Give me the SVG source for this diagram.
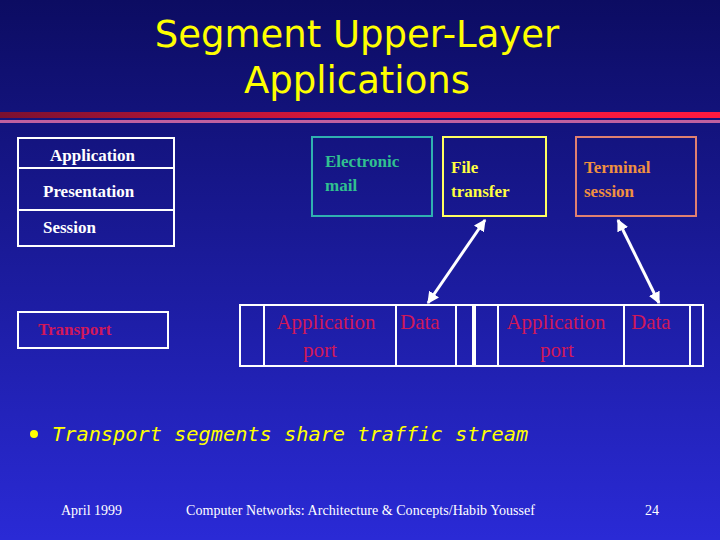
<svg xmlns="http://www.w3.org/2000/svg" width="720" height="540" viewBox="0 0 720 540">
<defs>
<linearGradient id="bg" x1="0" y1="0" x2="0" y2="1"><stop offset="0" stop-color="#0c0c62"/><stop offset="1" stop-color="#2a2ad6"/></linearGradient>
<linearGradient id="stripe" x1="0" y1="0" x2="1" y2="0"><stop offset="0" stop-color="#7a1030"/><stop offset="0.5" stop-color="#e0183c"/><stop offset="1" stop-color="#ff1a40"/></linearGradient>
<marker id="ah" viewBox="0 0 10 10" refX="9" refY="5" markerWidth="4" markerHeight="4" orient="auto-start-reverse"><path d="M0,0 L10,5 L0,10 z" fill="#fff"/></marker>
<style>
.box{fill:none;stroke:#fff;stroke-width:2}
.w{font-family:"Liberation Serif",serif;font-weight:bold;font-size:17px;fill:#fff}
.r{font-family:"Liberation Serif",serif;font-size:21px;fill:#d0185a}
.f{font-family:"Liberation Serif",serif;font-size:14px;fill:#fff}
</style>
</defs>
<rect width="720" height="540" fill="url(#bg)"/>
<rect x="0" y="112" width="720" height="6" fill="url(#stripe)"/>
<rect x="0" y="120" width="720" height="3" fill="#c060a0"/>
<g id="title" font-family="DejaVu Sans,sans-serif" font-size="37" fill="#ffff00" text-anchor="middle">
<text x="357" y="47">Segment Upper-Layer</text><text x="357" y="93">Applications</text></g>
<g id="stack">
<rect class="box" x="18" y="138" width="156" height="108"/>
<line class="box" x1="18" y1="168" x2="174" y2="168"/><line class="box" x1="18" y1="210" x2="174" y2="210"/>
<text class="w" x="50" y="161">Application</text><text class="w" x="43" y="197">Presentation</text><text class="w" x="43" y="233">Session</text>
</g>
<g id="transport"><rect class="box" x="18" y="312" width="150" height="36"/><text class="w" x="38" y="335" style="fill:#d0185a">Transport</text></g>
<g id="email"><rect x="312" y="137" width="120" height="79" fill="none" stroke="#30b0b0" stroke-width="2"/><text class="w" x="325" y="167" style="fill:#30c090">Electronic</text><text class="w" x="325" y="191" style="fill:#30c090">mail</text></g>
<g id="file"><rect x="443" y="137" width="103" height="79" fill="none" stroke="#ffff60" stroke-width="2"/><text class="w" x="451" y="173" style="fill:#ffff40">File</text><text class="w" x="451" y="197" style="fill:#ffff40">transfer</text></g>
<g id="terminal"><rect x="576" y="137" width="120" height="79" fill="none" stroke="#e08070" stroke-width="2"/><text class="w" x="584" y="173" style="fill:#f09040">Terminal</text><text class="w" x="584" y="197" style="fill:#f09040">session</text></g>
<g id="ports">
<rect class="box" x="240" y="305" width="463" height="61"/>
<line class="box" x1="264" y1="305" x2="264" y2="366"/><line class="box" x1="396" y1="305" x2="396" y2="366"/><line class="box" x1="456" y1="305" x2="456" y2="366"/>
<line x1="474" y1="305" x2="474" y2="366" stroke="#fff" stroke-width="4"/>
<line class="box" x1="498" y1="305" x2="498" y2="366"/><line class="box" x1="624" y1="305" x2="624" y2="366"/><line class="box" x1="690" y1="305" x2="690" y2="366"/>
<text class="r" x="326" y="329" text-anchor="middle">Application</text><text class="r" x="320" y="357" text-anchor="middle">port</text><text class="r" x="400" y="329">Data</text>
<text class="r" x="556" y="329" text-anchor="middle">Application</text><text class="r" x="557" y="357" text-anchor="middle">port</text><text class="r" x="631" y="329">Data</text>
</g>
<g id="connectors" stroke="#fff" stroke-width="3" marker-start="url(#ah)" marker-end="url(#ah)">
<line x1="485" y1="220" x2="428" y2="303"/><line x1="618" y1="220" x2="659" y2="303"/>
</g>
<g id="bullet"><circle cx="34" cy="434" r="4" fill="#ffff00"/><text x="52" y="441" font-family="DejaVu Sans Mono,monospace" font-style="italic" font-size="20.3" fill="#ffff00">Transport segments share traffic stream</text></g>
<g id="footer"><text class="f" x="61" y="515">April 1999</text><text class="f" x="186" y="515" textLength="349">Computer Networks: Architecture &amp; Concepts/Habib Youssef</text><text class="f" x="645" y="515">24</text></g>
</svg>
